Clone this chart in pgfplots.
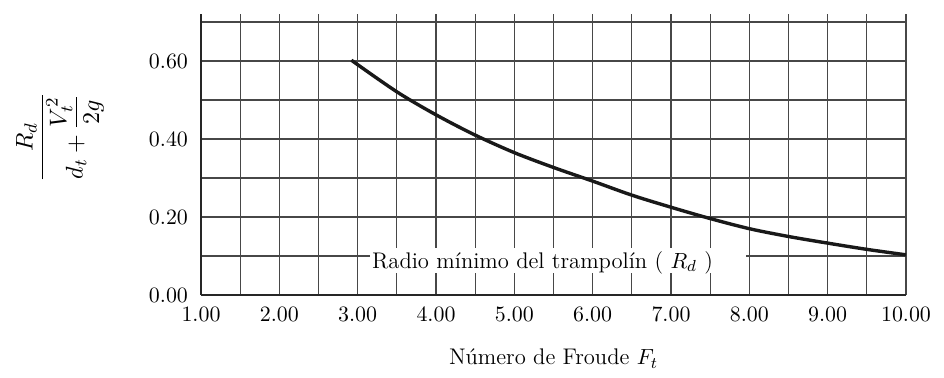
\documentclass[border=0pt]{standalone}
\usepackage{pgfplots}
\pgfplotsset{compat=1.18}
\usepackage{amsmath}
\begin{document}
\begin{tikzpicture}
\def\fs{\fontsize{11.3}{13.5}\selectfont}
\begin{axis}[
  scale only axis,
  width=352.5pt, height=140.4pt,
  xmin=1, xmax=10, ymin=0, ymax=0.72,
  axis x line*=bottom, axis y line*=left,
  axis line style={-, line width=1.1pt, black!85},
  xtick={1,2,...,10},
  minor xtick={1.5,2.5,...,9.5},
  ytick={0,0.2,0.4,0.6},
  minor ytick={0.1,0.3,0.5,0.7},
  grid=both,
  major grid style={black!72, line width=0.65pt},
  minor grid style={black!72, line width=0.65pt},
  major tick length=0pt, minor tick length=0pt,
  xticklabel style={font=\fs, yshift=-2.5pt},
  yticklabel style={font=\fs, xshift=-3pt},
  xticklabel={\pgfmathprintnumber[fixed,fixed zerofill,precision=2]{\tick}},
  yticklabel={\pgfmathprintnumber[fixed,fixed zerofill,precision=2]{\tick}},
  clip=false,
]
\fill[white] (axis cs:3.16,0.0556) rectangle (axis cs:7.96,0.1205);
\node[anchor=base west, inner sep=0pt, font=\fs] at (axis cs:3.18,0.0685) {Radio mínimo del trampolín ( $R_d$ )};
\addplot[smooth, line width=1.7pt, black!90] coordinates {
(2.92,0.602) (3.5,0.521) (4.0,0.462) (4.5,0.410) (5.0,0.365)
(5.5,0.327) (6.0,0.292) (6.5,0.256) (7.0,0.225) (7.5,0.196) (8.0,0.170)
(8.5,0.150) (9.0,0.133) (9.5,0.117) (10.0,0.103)
};
\node[rotate=90, inner sep=0pt, font=\fs, scale=1.1] at (rel axis cs:-0.2,0.5627) {$\dfrac{R_d}{d_t+\dfrac{V_t^2}{2g}}$};
\node[anchor=base, inner sep=0pt, font=\fs] at (rel axis cs:0.5,-0.2493) {Número de Froude $F_t$};
\end{axis}
\useasboundingbox (current axis.south west) ++(-100.5pt,-41.5pt) rectangle ++(472pt,189pt);
\end{tikzpicture}
\end{document}
